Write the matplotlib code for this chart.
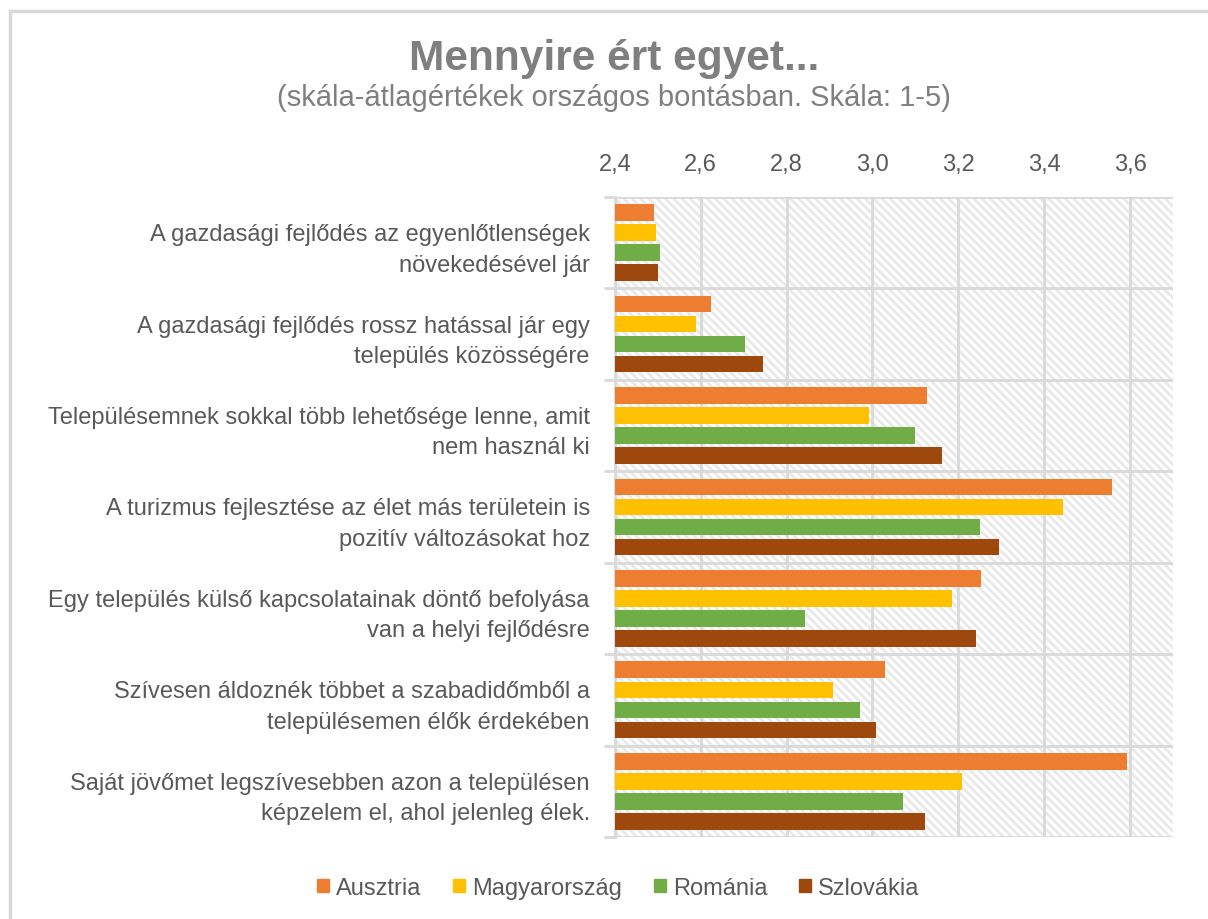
import numpy as np
import matplotlib
matplotlib.use("Agg")
from matplotlib import pyplot as plt
from matplotlib.lines import Line2D
import matplotlib.patches as mpatches
import matplotlib.ticker as mticker

plt.rcParams['font.family'] = ['Liberation Sans', 'DejaVu Sans']
plt.rcParams['hatch.linewidth'] = 2.0

# data
statements = [
    "A gazdasági fejlődés az egyenlőtlenségek\nnövekedésével jár",
    "A gazdasági fejlődés rossz hatással jár egy\ntelepülés közösségére",
    "Településemnek sokkal több lehetősége lenne, amit\nnem használ ki",
    "A turizmus fejlesztése az élet más területein is\npozitív változásokat hoz",
    "Egy település külső kapcsolatainak döntő befolyása\nvan a helyi fejlődésre",
    "Szívesen áldoznék többet a szabadidőmből a\ntelepülésemen élők érdekében",
    "Saját jövőmet legszívesebben azon a településen\nképzelem el, ahol jelenleg élek.",
]
countries = ["Ausztria", "Magyarország", "Románia", "Szlovákia"]
ausztria = [2.491, 2.623, 3.127, 3.558, 3.253, 3.030, 3.593]
magyarorszag = [2.495, 2.588, 2.991, 3.444, 3.186, 2.909, 3.209]
romania = [2.505, 2.702, 3.100, 3.251, 2.842, 2.970, 3.070]
szlovakia = [2.500, 2.744, 3.163, 3.295, 3.242, 3.009, 3.123]
colors = ["#ed7d31", "#ffc000", "#70ad47", "#9e480e"]

xticks = [2.4, 2.6, 2.8, 3.0, 3.2, 3.4, 3.6]


fig = plt.figure(figsize=(12.08, 9.2), dpi=100)
ax = fig.add_axes([0.509, 0.089, 0.462, 0.696])

# hatched plot background (light diagonal stripes)
ax.set_facecolor('white')
bg = mpatches.Rectangle((0, 0), 1, 1, transform=ax.transAxes, facecolor='white',
                        edgecolor='#e9e9e9', linewidth=0, hatch='\\' * 4, zorder=0)
ax.add_patch(bg)

y = np.arange(len(statements))
pitch = 0.219
height = 0.183
series = [ausztria, magyarorszag, romania, szlovakia]
for i, (vals, name, c) in enumerate(zip(series, countries, colors)):
    ax.barh(y + (i - 1.5) * pitch, np.array(vals) - 2.4, left=2.4, height=height,
            color=c, label=name, zorder=3)

ax.set_xlim(2.4, 3.7)
ax.set_ylim(len(statements) - 0.5, -0.5)
ax.xaxis.tick_top()
ax.set_xticks(xticks)
ax.xaxis.set_major_formatter(mticker.FuncFormatter(lambda v, p: f"{v:.1f}".replace('.', ',')))
ax.tick_params(axis='x', length=0, pad=15.5, labelsize=17, labelcolor='#595959')

# category boundaries as y gridlines, labels as minor ticks
ax.set_yticks(np.arange(len(statements) + 1) - 0.5)
ax.set_yticklabels([])
ax.set_yticks(y, minor=True)
ax.set_yticklabels(statements, minor=True)
ax.tick_params(axis='y', which='major', length=8, width=2, color='#d9d9d9')
ax.tick_params(axis='y', which='minor', length=0, pad=18, labelsize=17, labelcolor='#595959')
for lab in ax.get_yticklabels(minor=True):
    lab.set_horizontalalignment('right')
    lab.set_multialignment('right')
    lab.set_linespacing(1.5)

ax.grid(True, which='major', color='#d9d9d9', linewidth=2, zorder=1)
ax.set_axisbelow(True)
for s in ['top', 'right', 'bottom']:
    ax.spines[s].set_visible(False)
ax.spines['left'].set_color('#d9d9d9')
ax.spines['left'].set_linewidth(2)

fig.text(0.508, 0.936, "Mennyire ért egyet...", ha='center', va='center',
         fontsize=30.5, fontweight='bold', color='#7f7f7f')
fig.text(0.508, 0.893, "(skála-átlagértékek országos bontásban. Skála: 1-5)", ha='center',
         va='center', fontsize=21, color='#7f7f7f')

handles = [mpatches.Patch(color=c, label=n) for c, n in zip(colors, countries)]
fig.legend(handles=handles, loc='center', bbox_to_anchor=(0.512, 0.034), ncol=4,
           frameon=False, fontsize=17, labelcolor='#595959', handlelength=0.5,
           handleheight=0.5, handletextpad=0.3, columnspacing=1.35)

# chart area border
fig.add_artist(Line2D([10 / 1208, 10 / 1208], [0, 1 - 12 / 920], color='#d9d9d9', linewidth=2.5))
fig.add_artist(Line2D([10 / 1208, 1], [1 - 12 / 920, 1 - 12 / 920], color='#d9d9d9', linewidth=2.5))

plt.savefig("out.png", dpi=100)
plt.close()
